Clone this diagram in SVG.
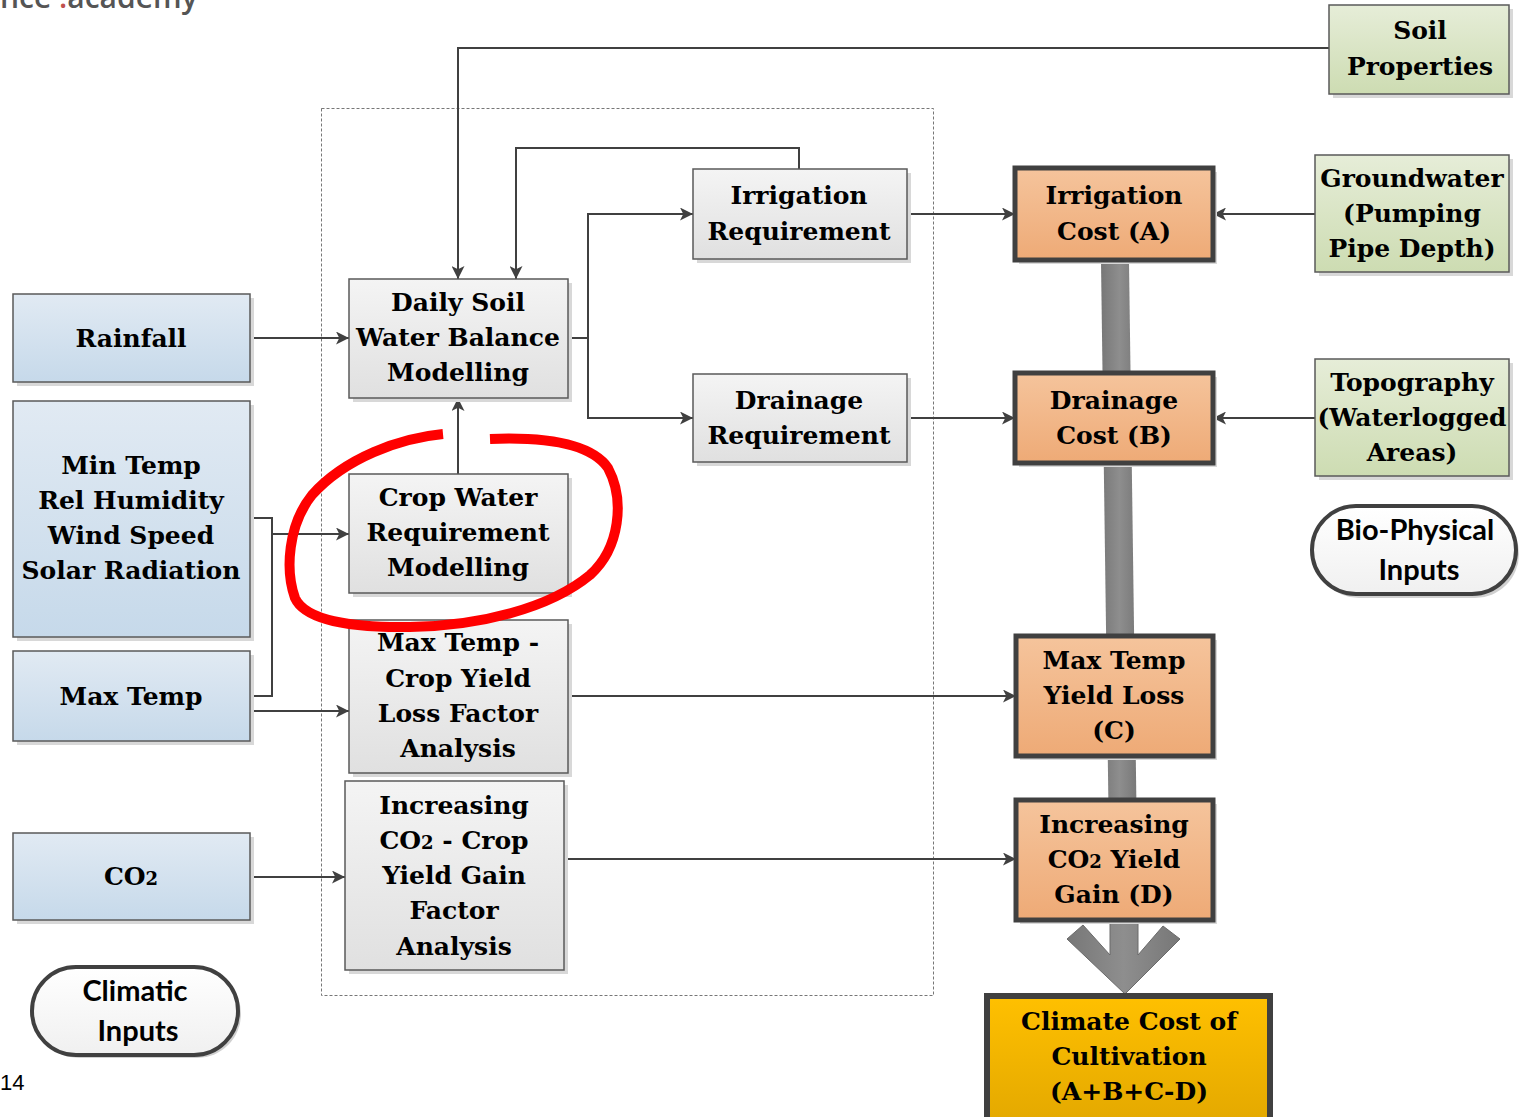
<svg xmlns="http://www.w3.org/2000/svg" width="1519" height="1117" viewBox="0 0 1519 1117">
<defs>
<linearGradient id="gBlue" x1="0" y1="0" x2="0" y2="1"><stop offset="0" stop-color="#e1eaf3"/><stop offset="1" stop-color="#c6d9ea"/></linearGradient>
<linearGradient id="gGray" x1="0" y1="0" x2="0" y2="1"><stop offset="0" stop-color="#f4f4f4"/><stop offset="1" stop-color="#e0e0e0"/></linearGradient>
<linearGradient id="gGreen" x1="0" y1="0" x2="0" y2="1"><stop offset="0" stop-color="#e6edd8"/><stop offset="1" stop-color="#cddcb2"/></linearGradient>
<linearGradient id="gOrange" x1="0" y1="0" x2="0" y2="1"><stop offset="0" stop-color="#f5c49c"/><stop offset="1" stop-color="#eeaa76"/></linearGradient>
<linearGradient id="gGold" x1="0" y1="0" x2="0" y2="1"><stop offset="0" stop-color="#ffc000"/><stop offset="1" stop-color="#e3a800"/></linearGradient>
<linearGradient id="gBar" x1="0" y1="0" x2="1" y2="0"><stop offset="0" stop-color="#777"/><stop offset="0.5" stop-color="#8e8e8e"/><stop offset="1" stop-color="#777"/></linearGradient>
<linearGradient id="gOval" x1="0" y1="0" x2="0" y2="1"><stop offset="0" stop-color="#ffffff"/><stop offset="1" stop-color="#f0f0f0"/></linearGradient>
<marker id="arr" viewBox="0 0 10 10" refX="10" refY="5" markerWidth="13" markerHeight="13" markerUnits="userSpaceOnUse" orient="auto"><path d="M0,0 L10,5 L0,10 L2.5,5 Z" fill="#404040"/></marker>
</defs>
<style>
.t{font-family:"DejaVu Serif","Liberation Serif",serif;font-weight:bold;font-size:25px;fill:#000;text-anchor:middle}
.s{font-family:Lato,"Liberation Sans",sans-serif;font-weight:bold;font-size:29px;fill:#000;text-anchor:middle}
.blue{fill:url(#gBlue);stroke:#5a5a5a;stroke-width:1.5}
.gray{fill:url(#gGray);stroke:#5a5a5a;stroke-width:1.5}
.green{fill:url(#gGreen);stroke:#5a5a5a;stroke-width:1.5}
.orange{fill:url(#gOrange);stroke:#404040;stroke-width:5}
.sh{fill:#d8d8d8}
.c{fill:none;stroke:#404040;stroke-width:2}
.ca{fill:none;stroke:#404040;stroke-width:2;marker-end:url(#arr)}
</style>
<rect width="1519" height="1117" fill="#fff"/>

<text x="0" y="8" font-family="Open Sans,Liberation Sans,sans-serif" font-size="30" font-weight="600" fill="#555">nce <tspan fill="#c0504d">.</tspan>academy</text>
<text x="0" y="1090" font-family="Liberation Sans,sans-serif" font-size="22" fill="#000">14</text>

<rect x="321.5" y="108.5" width="612" height="887" fill="none" stroke="#777" stroke-width="1" stroke-dasharray="3,2"/>

<g id="bar">
<polygon points="1101,262 1129,262 1138,920 1110,920" fill="url(#gBar)"/>
<polygon points="1110,918 1138,918 1138,955 1163,926 1180,939 1125,994 1067,939 1083,925 1110,955" fill="url(#gBar)" stroke="#6a6a6a" stroke-width="1"/>
</g>

<g id="connectors">
<path class="ca" d="M1329,48 H458 V279"/>
<path class="ca" d="M799,169 V148 H516 V279"/>
<path class="ca" d="M250,338 H349"/>
<path class="c" d="M568,338 H588"/>
<path class="ca" d="M588,338 V214 H693"/>
<path class="ca" d="M588,338 V418 H693"/>
<path class="ca" d="M458,474 V398"/>
<path class="c" d="M250,518 H272 V696 H250"/>
<path class="ca" d="M272,534 H349"/>
<path class="ca" d="M250,711 H349"/>
<path class="ca" d="M250,877 H345"/>
<path class="ca" d="M907,214 H1015"/>
<path class="ca" d="M907,418 H1015"/>
<path class="ca" d="M568,696 H1016"/>
<path class="ca" d="M564,859 H1016"/>
<path class="ca" d="M1315,214 H1213"/>
<path class="ca" d="M1315,418 H1213"/>
</g>

<g id="rainfall"><rect class="sh" x="17" y="298" width="237" height="88"/><rect class="blue" x="13" y="294" width="237" height="88"/><text class="t" x="131" y="347">Rainfall</text></g>
<g id="climate-vars"><rect class="sh" x="17" y="405" width="237" height="236"/><rect class="blue" x="13" y="401" width="237" height="236"/>
<text class="t" x="131" y="474">Min Temp</text><text class="t" x="131" y="509">Rel Humidity</text><text class="t" x="131" y="544">Wind Speed</text><text class="t" x="131" y="579">Solar Radiation</text></g>
<g id="maxtemp"><rect class="sh" x="17" y="655" width="237" height="90"/><rect class="blue" x="13" y="651" width="237" height="90"/><text class="t" x="131" y="705">Max Temp</text></g>
<g id="co2"><rect class="sh" x="17" y="837" width="237" height="87"/><rect class="blue" x="13" y="833" width="237" height="87"/><text class="t" x="131" y="885">CO<tspan font-size="18">2</tspan></text></g>

<g id="daily-soil"><rect class="sh" x="353" y="283" width="219" height="119"/><rect class="gray" x="349" y="279" width="219" height="119"/>
<text class="t" x="458" y="311">Daily Soil</text><text class="t" x="458" y="346">Water Balance</text><text class="t" x="458" y="381">Modelling</text></g>
<g id="crop-water"><rect class="sh" x="353" y="478" width="219" height="119"/><rect class="gray" x="349" y="474" width="219" height="119"/>
<text class="t" x="458" y="506">Crop Water</text><text class="t" x="458" y="541">Requirement</text><text class="t" x="458" y="576">Modelling</text></g>
<g id="maxtemp-loss"><rect class="sh" x="353" y="624" width="219" height="153"/><rect class="gray" x="349" y="620" width="219" height="153"/>
<text class="t" x="458" y="651">Max Temp -</text><text class="t" x="458" y="687">Crop Yield</text><text class="t" x="458" y="722">Loss Factor</text><text class="t" x="458" y="757">Analysis</text></g>
<g id="co2-gain"><rect class="sh" x="349" y="785" width="219" height="189"/><rect class="gray" x="345" y="781" width="219" height="189"/>
<text class="t" x="454" y="814">Increasing</text><text class="t" x="454" y="849">CO<tspan font-size="18">2</tspan> - Crop</text><text class="t" x="454" y="884">Yield Gain</text><text class="t" x="454" y="919">Factor</text><text class="t" x="454" y="955">Analysis</text></g>
<g id="irr-req"><rect class="sh" x="697" y="173" width="214" height="90"/><rect class="gray" x="693" y="169" width="214" height="90"/>
<text class="t" x="799" y="204">Irrigation</text><text class="t" x="799" y="240">Requirement</text></g>
<g id="drain-req"><rect class="sh" x="697" y="378" width="214" height="88"/><rect class="gray" x="693" y="374" width="214" height="88"/>
<text class="t" x="799" y="409">Drainage</text><text class="t" x="799" y="444">Requirement</text></g>

<g id="irr-cost"><rect class="sh" x="1019" y="172" width="198" height="92"/><rect class="orange" x="1015" y="168" width="198" height="92"/>
<text class="t" x="1114" y="204">Irrigation</text><text class="t" x="1114" y="240">Cost (A)</text></g>
<g id="drain-cost"><rect class="sh" x="1019" y="377" width="198" height="90"/><rect class="orange" x="1015" y="373" width="198" height="90" stroke="#000"/>
<text class="t" x="1114" y="409">Drainage</text><text class="t" x="1114" y="444">Cost (B)</text></g>
<g id="maxtemp-cost"><rect class="sh" x="1020" y="640" width="197" height="120"/><rect class="orange" x="1016" y="636" width="197" height="120"/>
<text class="t" x="1114" y="669">Max Temp</text><text class="t" x="1114" y="704">Yield Loss</text><text class="t" x="1114" y="739">(C)</text></g>
<g id="co2-cost"><rect class="sh" x="1020" y="804" width="197" height="120"/><rect class="orange" x="1016" y="800" width="197" height="120"/>
<text class="t" x="1114" y="833">Increasing</text><text class="t" x="1114" y="868">CO<tspan font-size="18">2</tspan> Yield</text><text class="t" x="1114" y="903">Gain (D)</text></g>
<g id="climate-cost"><rect x="987" y="996" width="283" height="130" fill="url(#gGold)" stroke="#404040" stroke-width="6"/>
<text class="t" x="1129" y="1030">Climate Cost of</text><text class="t" x="1129" y="1065">Cultivation</text><text class="t" x="1129" y="1100">(A+B+C-D)</text></g>

<g id="soil-props"><rect class="sh" x="1333" y="9" width="180" height="89"/><rect class="green" x="1329" y="5" width="180" height="89"/>
<text class="t" x="1420" y="39">Soil</text><text class="t" x="1420" y="75">Properties</text></g>
<g id="groundwater"><rect class="sh" x="1319" y="159" width="194" height="117"/><rect class="green" x="1315" y="155" width="194" height="117"/>
<text class="t" x="1412" y="187">Groundwater</text><text class="t" x="1412" y="222">(Pumping</text><text class="t" x="1412" y="257">Pipe Depth)</text></g>
<g id="topography"><rect class="sh" x="1319" y="363" width="194" height="117"/><rect class="green" x="1315" y="359" width="194" height="117"/>
<text class="t" x="1412" y="391">Topography</text><text class="t" x="1412" y="426">(Waterlogged</text><text class="t" x="1412" y="461">Areas)</text></g>

<g id="bio-physical"><rect x="1315" y="510" width="204" height="88" rx="44" fill="#d0d0d0"/><rect x="1312" y="506" width="204" height="88" rx="44" fill="url(#gOval)" stroke="#404040" stroke-width="4"/>
<text class="s" x="1415" y="540">Bio-Physical</text><text class="s" x="1419" y="580">Inputs</text></g>
<g id="climatic"><rect x="35" y="970" width="206" height="88" rx="44" fill="#d0d0d0"/><rect x="32" y="967" width="206" height="88" rx="44" fill="url(#gOval)" stroke="#404040" stroke-width="4"/>
<text class="s" x="135" y="1001">Climatic</text><text class="s" x="138" y="1041">Inputs</text></g>

<path id="red-circle" d="M443,434 C400,438 345,458 312,495 C288,525 285,570 295,598 C305,620 350,628 410,627 C480,626 550,608 590,575 C620,548 625,500 608,468 C590,442 540,437 490,439" fill="none" stroke="#ff0000" stroke-width="10" stroke-linecap="butt"/>
</svg>
